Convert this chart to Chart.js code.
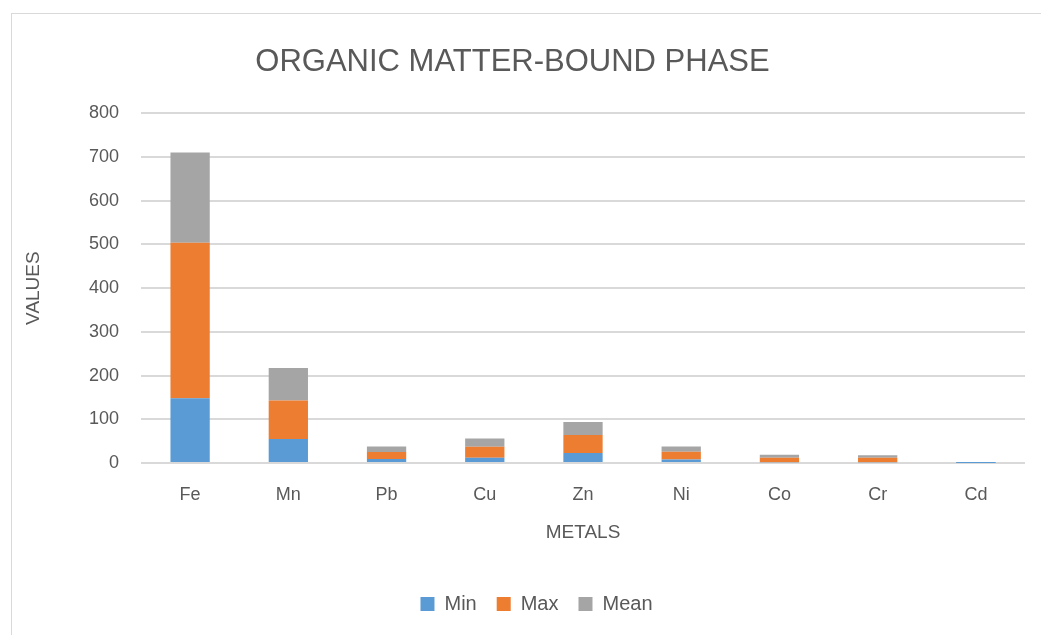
<!DOCTYPE html>
<html>
<head>
<meta charset="utf-8">
<script src="https://cdn.jsdelivr.net/npm/chart.js@4.4.1/dist/chart.umd.min.js"></script>
<style>
  html, body { margin: 0; padding: 0; background: #fff; }
  #wrap { position: relative; width: 1041px; height: 635px; overflow: hidden; }
  #frame { position: absolute; left: 11px; top: 13px; width: 1100px; height: 700px; border: 1px solid #d9d9d9; box-sizing: border-box; }
  #chart { position: absolute; left: 0; top: 0; }
</style>
</head>
<body>
<div id="wrap">
  <div id="frame"></div>
  <canvas id="chart" width="1041" height="635"></canvas>
</div>
<script>
const metals = ["Fe", "Mn", "Pb", "Cu", "Zn", "Ni", "Co", "Cr", "Cd"];
const minValues = [148, 55, 9, 12, 23, 8, 2, 2, 0.2];
const maxValues = [356, 88, 16, 25, 41, 18, 10, 10, 0.8];
const meanValues = [206, 74, 13, 19, 30, 12, 7, 6, 0.5];
const yTicks = [0, 100, 200, 300, 400, 500, 600, 700, 800];

const textColor = "#595959";
const fontFamily = "'Liberation Sans', 'DejaVu Sans', sans-serif";

// legend sits a little right of the canvas centre
const legendShift = {
  id: "legendShift",
  afterLayout(chart) {
    chart.legend.left += 24;
    chart.legend.right += 24;
  }
};

new Chart(document.getElementById("chart"), {
  type: "bar",
  data: {
    labels: metals,
    datasets: [
      { label: "Min", data: minValues, backgroundColor: "#5b9bd5" },
      { label: "Max", data: maxValues, backgroundColor: "#ed7d31" },
      { label: "Mean", data: meanValues, backgroundColor: "#a5a5a5" }
    ]
  },
  plugins: [legendShift],
  options: {
    responsive: false,
    animation: false,
    layout: { padding: { left: 0, right: 16, top: 0, bottom: 11 } },
    datasets: { bar: { categoryPercentage: 0.8, barPercentage: 0.5 } },
    plugins: {
      title: {
        display: true,
        text: "ORGANIC MATTER-BOUND PHASE",
        color: textColor,
        font: { family: fontFamily, size: 31, weight: "normal" },
        padding: { top: 44, bottom: 32 }
      },
      legend: {
        position: "bottom",
        labels: {
          color: textColor,
          font: { family: fontFamily, size: 20 },
          boxWidth: 14,
          boxHeight: 14,
          padding: 20
        }
      },
      tooltip: { enabled: false }
    },
    scales: {
      x: {
        stacked: true,
        afterFit: scale => { scale.height = 111; },
        grid: { display: false },
        border: { display: false },
        ticks: { color: textColor, font: { family: fontFamily, size: 18 }, padding: 13 },
        title: {
          display: true,
          text: "METALS",
          color: textColor,
          font: { family: fontFamily, size: 19 },
          padding: { top: 0, bottom: 30 }
        }
      },
      y: {
        stacked: true,
        min: 0,
        max: 800,
        afterBuildTicks: scale => { scale.ticks = yTicks.map(v => ({ value: v })); },
        afterFit: scale => { scale.width = 141; },
        grid: { color: "#d9d9d9", lineWidth: 2, drawTicks: false },
        border: { display: false },
        ticks: { color: textColor, font: { family: fontFamily, size: 18 }, padding: 22 },
        title: {
          display: true,
          text: "VALUES",
          color: textColor,
          font: { family: fontFamily, size: 19 },
          padding: { top: 22, bottom: 0 }
        }
      }
    }
  }
});
</script>
</body>
</html>
